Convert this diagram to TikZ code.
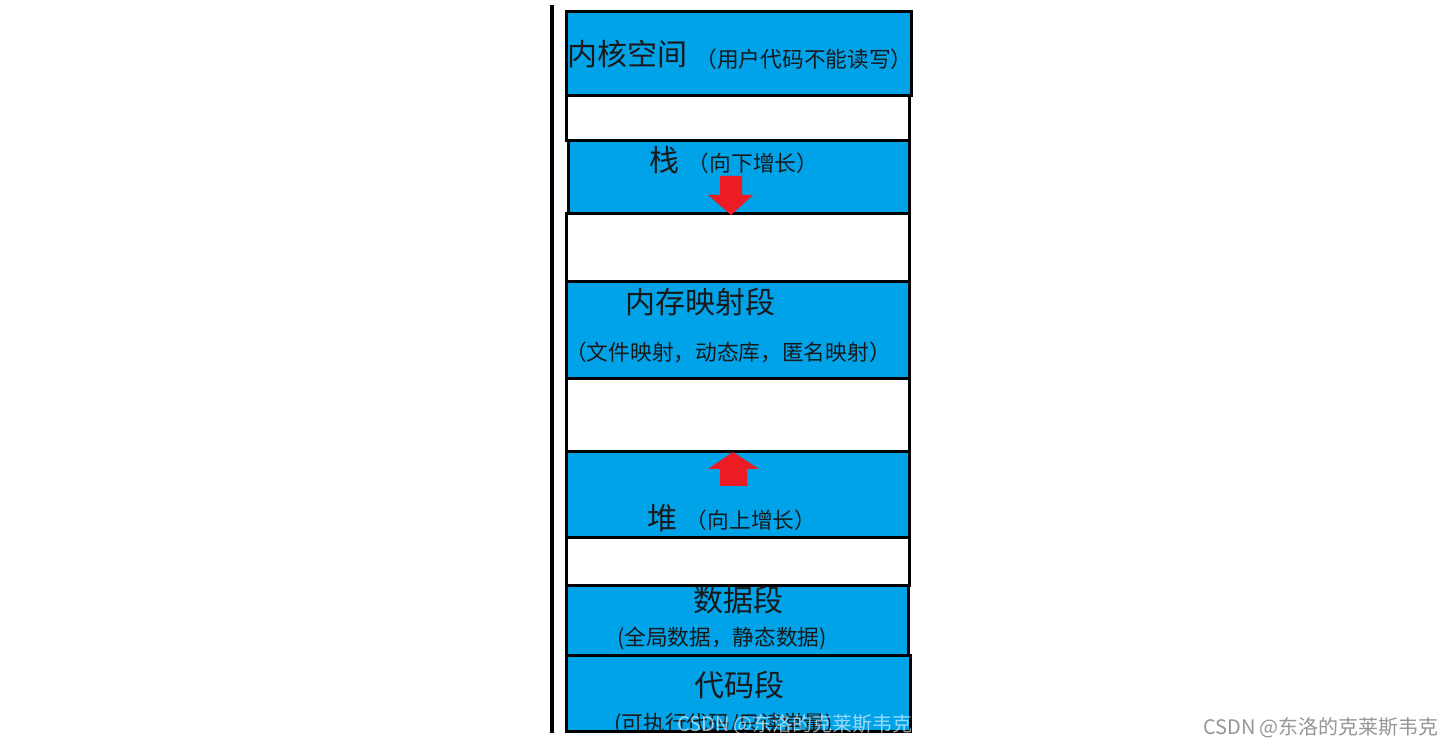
\documentclass[tikz,border=0pt]{standalone}
\usepackage{fontspec}
\newfontfamily\cjk{Noto Sans CJK SC}
\definecolor{segblue}{RGB}{0,162,232}
\definecolor{arrred}{RGB}{237,28,36}
\definecolor{wmgray}{RGB}{150,150,150}
\begin{document}
\begin{tikzpicture}[x=0.5pt,y=-0.5pt,
  seg/.style={fill=segblue,draw=black,line width=1.5pt},
  gapbox/.style={fill=white,draw=black,line width=1.5pt},
  bigtxt/.style={font=\cjk\fontsize{15pt}{18pt}\selectfont,inner sep=0pt,text=black!90},
  smalltxt/.style={font=\cjk\fontsize{10.85pt}{13pt}\selectfont,inner sep=0pt,text=black!90},
  wmtxt/.style={font=\cjk\fontsize{10pt}{12pt}\selectfont,inner sep=0pt},
  growarrow/.style={fill=arrred,draw=none}]
\useasboundingbox (0,0) rectangle (1452,747);
\fill[white] (0,0) rectangle (1452,747);
% left axis line
\draw[line width=2pt] (552,5) -- (552,733);
% segments
\draw[seg] (566,12) rectangle (911,96);
\draw[gapbox] (566,96) rectangle (909,141);
\draw[seg] (568,141) rectangle (909,214);
\draw[gapbox] (566,214) rectangle (909,282);
\draw[seg] (566,282) rectangle (909,379);
\draw[gapbox] (566,379) rectangle (909,452);
\draw[seg] (566,452) rectangle (909,538);
\draw[gapbox] (566,538) rectangle (909,586);
\draw[seg] (566,586) rectangle (908,656);
\draw[seg] (566,656) rectangle (910,732);
% texts
\node[bigtxt,anchor=west] (kern) at (567,54) {内核空间};
\node[smalltxt] (kernnote) at (804,59) {（用户代码不能读写）};
\node[bigtxt] (stack) at (664,160) {栈};
\node[smalltxt] (stacknote) at (753,163) {（向下增长）};
\node[bigtxt] (mmap) at (700,302) {内存映射段};
\node[smalltxt] (mmapnote) at (728,352) {（文件映射，动态库，匿名映射）};
\node[bigtxt] (heap) at (662,518) {堆};
\node[smalltxt] (heapnote) at (751,520) {（向上增长）};
\node[bigtxt] (data) at (738,600) {数据段};
\node[smalltxt] (datanote) at (722,638) {(全局数据，静态数据)};
\node[bigtxt] (code) at (739,685) {代码段};
\begin{scope}
  \clip (566,656) rectangle (910,731);
  \node[smalltxt,anchor=west] (codenote) at (614,725) {(可执行代码/只读常量)};
\end{scope}
\draw[line width=1.5pt] (566,732) -- (910,732);
% arrows
\fill[growarrow] (720,176) -- (742,176) -- (742,195) -- (753,195) -- (731,215) -- (708,195) -- (720,195) -- cycle;
\fill[growarrow] (720,486) -- (747,486) -- (747,469) -- (759,469) -- (733,452) -- (708,469) -- (720,469) -- cycle;
% watermarks
\node[wmtxt,text=white,opacity=0.6] (wm1) at (795,725) {CSDN @东洛的克莱斯韦克};
\node[wmtxt,text=wmgray] (wm2) at (1321,728) {CSDN @东洛的克莱斯韦克};
\end{tikzpicture}
\end{document}
